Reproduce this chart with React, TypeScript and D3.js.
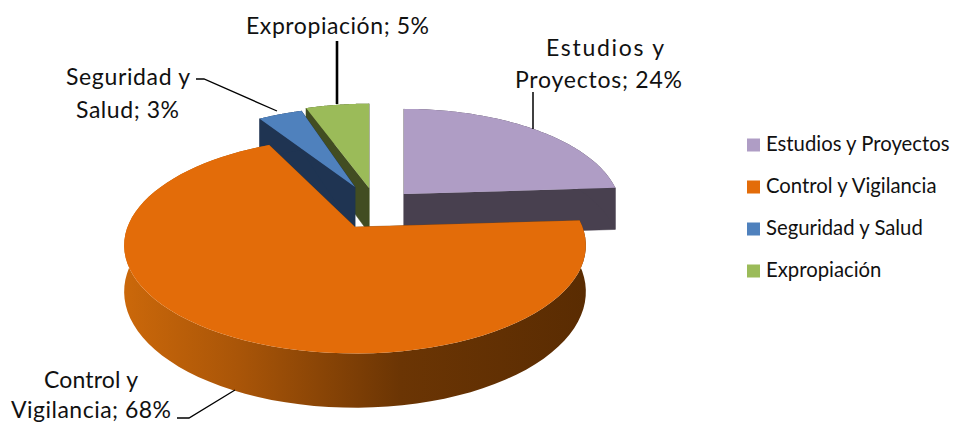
import React from "react";
import * as d3 from "d3";

const categories = ["Estudios y Proyectos", "Control y Vigilancia", "Seguridad y Salud", "Expropiación"];
const shares = [24, 68, 3, 5];
const topColors = ["#af9dc5", "#e36c09", "#4f81bd", "#9bbb59"];
const wallColors = ["#48404f", "#8a4506", "#1f3452", "#424d22"];
const dataLabels = [
  ["Estudios y", "Proyectos; 24%"],
  ["Control y", "Vigilancia; 68%"],
  ["Seguridad y", "Salud; 3%"],
  ["Expropiación; 5%"],
];

const W = 956, H = 423;
const cx = 355, cy = 227;
const rx = 227.5, ry = 105, persp = 0.17;
const rad = Math.PI / 180;
// per-slice explosion: pixel offset of the apex, radius scale, wall height,
// and the angular distortion the 3D view adds at each cut (degrees)
const explode = [
  { dx: 49, dy: -33, s: 0.94, h: 42, d0: 0, d1: 0 },
  { dx: 0, dy: 0, s: 1, h: 45, d0: 0, d1: 3 },
  { dx: 0, dy: -40, s: 0.87, h: 45, d0: -4, d1: 0 },
  { dx: 14, dy: -39, s: 0.93, h: 45, d0: -2, d1: 0 },
];
const labelBoxes = [
  [{ x: 546, w: 118, y: 56 }, { x: 515, w: 167, y: 88 }],
  [{ x: 44, w: 94, y: 388 }, { x: 11, w: 160, y: 418 }],
  [{ x: 66, w: 124, y: 85 }, { x: 76, w: 103, y: 118 }],
  [{ x: 246, w: 183, y: 34 }],
];
const leaders: [number, number][][] = [
  [[533, 92], [533, 129]],
  [[177, 418], [189, 418], [235, 390]],
  [[196, 79], [204, 79], [277, 111]],
  [[337, 41], [337, 104]],
];
const leaderWidths = [1.5, 1.3, 1.3, 2.6];
const legendY = d3.scalePoint<string>().domain(categories).range([145, 271]);

const proj = (a: number, i: number, r = 1, drop = 0): [number, number] => {
  const e = explode[i];
  const u = Math.sin(a) * r * e.s;
  const v = -Math.cos(a) * r * e.s;
  const k = 1 / (1 - persp * v);
  return [cx + e.dx + rx * u * k, cy + e.dy + ry * v * k + drop * k];
};
const line = d3.line<[number, number]>().x(d => d[0]).y(d => d[1]);

const arcPts = (a0: number, a1: number, i: number, drop = 0) =>
  d3.range(0, 81).map(t => proj(a0 + ((a1 - a0) * t) / 80, i, 1, drop));

export default function App() {
  const arcs = d3.pie<number>().sort(null).startAngle(0).endAngle(2 * Math.PI)(shares);
  const drawOrder = [0, 3, 2, 1];
  return (
    <svg width={W} height={H} style={{ position: "absolute", left: 0, top: 0, background: "#fff" }}
      fontFamily="Lato, 'Open Sans', sans-serif" fill="#111">
      <defs>
        <linearGradient id="sideGrad" gradientUnits="userSpaceOnUse" x1={124} x2={585} y1={0} y2={0}>
          <stop offset="0" stopColor="#cb680a" />
          <stop offset="0.25" stopColor="#a95508" />
          <stop offset="0.6" stopColor="#6b3504" />
          <stop offset="1" stopColor="#5a2c02" />
        </linearGradient>
      </defs>
      {drawOrder.map(i => {
        const a = arcs[i];
        const e = explode[i];
        const a0 = a.startAngle + e.d0 * rad;
        const a1 = a.endAngle + e.d1 * rad;
        const apex = proj(0, i, 0);
        const apexLow = proj(0, i, 0, e.h);
        const top = arcPts(a0, a1, i);
        const low = arcPts(a0, a1, i, e.h);
        const outer = [...top, ...low.slice().reverse()];
        const startWall: [number, number][] = [apex, top[0], low[0], apexLow];
        const endWall: [number, number][] = [apex, top[80], low[80], apexLow];
        return (
          <g key={categories[i]}>
            <path d={line(startWall) + "Z"} fill={wallColors[i]} stroke={wallColors[i]} strokeWidth={0.5} />
            <path d={line(endWall) + "Z"} fill={wallColors[i]} stroke={wallColors[i]} strokeWidth={0.5} />
            <path d={line(outer) + "Z"} fill={i === 1 ? "url(#sideGrad)" : wallColors[i]} />
            <path d={line([apex, ...top]) + "Z"} fill={topColors[i]} />
          </g>
        );
      })}
      {leaders.map((pts, i) => (
        <path key={i} d={line(pts) ?? ""} fill="none" stroke="#000" strokeWidth={leaderWidths[i]} />
      ))}
      {dataLabels.map((lines, i) =>
        lines.map((t, j) => (
          <text key={t} x={labelBoxes[i][j].x} y={labelBoxes[i][j].y} fontSize={23}
            textLength={labelBoxes[i][j].w} lengthAdjust="spacing">{t}</text>
        ))
      )}
      {categories.map((c, i) => (
        <g key={c}>
          <rect x={747} y={(legendY(c) as number) - 6.5} width={13} height={13} fill={topColors[i]} />
          <text x={766} y={(legendY(c) as number) + 6} fontSize={20.3}>{c}</text>
        </g>
      ))}
    </svg>
  );
}
